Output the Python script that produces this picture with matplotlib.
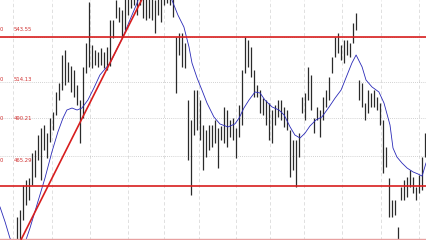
import numpy as np
import matplotlib
matplotlib.use("Agg")
import matplotlib.pyplot as plt

# daglige kurser (høy / lav), en stolpe per handelsdag
high = [403.0, 399.7, 403.0, 406.3, 408.3, 424.8, 429.4, 445.9, 449.2, 450.5,
        467.0, 469.0, 478.9, 483.5, 485.5, 480.2, 490.1, 494.1, 507.3, 513.2,
        531.7, 535.0, 527.1, 524.4, 521.8, 511.9, 502.0, 523.8, 539.6, 566.7,
        538.3, 535.0, 533.7, 536.3, 533.7, 537.0, 554.8, 554.8, 568.0, 563.4,
        561.4, 569.3, 571.3, 573.3, 574.6, 571.3, 573.3, 571.3, 570.0, 571.3,
        570.6, 568.0, 571.3, 569.3, 574.6, 574.6, 573.3, 570.0, 543.6, 546.2,
        546.2, 539.6, 502.0, 488.8, 508.6, 508.6, 502.0, 485.5, 482.2, 485.5,
        485.5, 488.8, 483.5, 484.8, 497.4, 495.4, 488.8, 490.1, 483.5, 498.7,
        521.8, 543.6, 541.6, 537.0, 521.8, 511.9, 508.6, 503.3, 502.0, 500.0,
        495.4, 498.7, 502.0, 502.0, 497.4, 495.4, 482.2, 475.6, 475.6, 480.2,
        504.0, 506.6, 523.8, 518.5, 490.1, 497.4, 495.4, 504.0, 508.6, 517.2,
        530.4, 543.6, 546.2, 538.3, 541.6, 541.6, 539.6, 552.8, 559.4, 515.2,
        513.2, 500.0, 508.6, 506.6, 508.6, 504.0, 500.0, 488.8, 471.0, 450.5,
        436.0, 436.0, 418.2, 444.6, 449.2, 451.2, 455.8, 451.2, 444.6, 452.5,
        464.4, 480.2]
low = [389.8, 386.5, 383.2, 389.8, 393.1, 406.3, 409.6, 422.8, 432.7, 436.0,
       445.9, 451.2, 462.4, 449.2, 469.0, 463.7, 474.3, 482.2, 492.1, 502.0,
       508.6, 511.9, 513.9, 507.3, 504.0, 498.7, 473.6, 490.1, 519.8, 523.8,
       523.1, 525.1, 523.8, 525.1, 523.1, 521.8, 524.4, 542.9, 556.1, 553.5,
       544.2, 548.2, 558.1, 562.7, 564.7, 558.1, 564.7, 556.1, 554.8, 556.1,
       554.8, 546.2, 558.1, 553.5, 564.7, 566.0, 564.7, 556.8, 506.6, 531.7,
       523.8, 523.1, 462.4, 439.3, 478.9, 482.2, 475.6, 455.8, 464.4, 469.0,
       471.0, 473.6, 457.1, 475.6, 473.6, 471.0, 477.6, 475.6, 463.7, 477.6,
       485.5, 519.8, 523.8, 517.2, 504.0, 504.0, 493.4, 492.1, 485.5, 475.6,
       473.6, 485.5, 490.8, 488.8, 484.2, 482.2, 451.2, 455.8, 444.6, 464.4,
       493.4, 488.8, 502.0, 495.4, 480.2, 488.8, 477.6, 488.8, 497.4, 502.0,
       519.8, 530.4, 533.0, 528.4, 526.4, 531.7, 530.4, 539.6, 548.2, 502.0,
       497.4, 488.8, 493.4, 497.4, 497.4, 495.4, 485.5, 453.8, 457.8, 424.8,
       424.8, 426.1, 403.0, 436.0, 436.0, 438.0, 444.6, 440.6, 436.0, 440.6,
       442.6, 464.4]

# glidende gjennomsnitt (blå), avlest
ma_x = [0.0, 1.7, 3.3, 5.0, 6.7, 8.3, 10.0, 12.3, 15.0, 17.3, 19.3, 21.0,
        22.3, 24.0, 25.7, 27.3, 29.3, 31.3, 33.3, 36.7, 39.3, 41.0, 43.3,
        45.7, 47.3, 50.0, 52.7, 55.0, 57.3, 59.3, 61.3, 63.0, 64.0, 65.7,
        67.3, 69.0, 71.3, 73.3, 76.0, 78.3, 79.7, 81.3, 83.0, 85.0, 86.7,
        88.3, 90.7, 93.0, 94.7, 96.7, 98.3, 100.0, 101.7, 103.3, 105.3,
        107.3, 109.7, 111.7, 113.7, 115.7, 117.3, 118.7, 120.7, 122.0, 124.0,
        126.3, 128.0, 130.0, 131.0, 132.3, 134.0, 135.7, 137.7, 139.3, 140.7,
        142.0]
ma_y = [431.4, 421.5, 410.9, 404.3, 403.0, 407.6, 417.5, 432.7, 450.5, 467.7,
        480.9, 490.1, 495.4, 496.7, 495.4, 496.7, 502.0, 509.9, 518.5, 526.4,
        537.0, 543.6, 554.8, 566.0, 575.9, 582.5, 582.5, 577.2, 568.0, 558.1,
        550.2, 537.0, 526.4, 516.5, 508.6, 500.0, 490.8, 486.2, 484.2, 486.2,
        490.1, 496.7, 502.0, 507.3, 506.6, 502.0, 497.4, 495.4, 492.1, 484.2,
        478.9, 476.9, 480.2, 484.8, 488.8, 490.8, 497.4, 503.3, 508.6, 518.5,
        526.4, 531.7, 523.8, 515.2, 510.6, 507.3, 500.0, 485.5, 470.3, 464.4,
        460.4, 457.1, 454.5, 453.2, 451.8, 460.4]

# nivåer
levels = [543.55, 514.13, 490.21, 465.29]
level_labels = ["543.55", "514.13", "490.21", "465.29"]
support = [543.55, 445.2]
bottom_level = 410.0
trend_p1 = (7.3, 410.9)
trend_p2 = (41.0, 543.6)
month_lines = [4.3, 17.3, 30.0, 42.7, 54.7, 66.3, 78.7, 90.0, 101.3, 114.0,
               127.0, 139.7]

x = np.arange(len(high)) + 0.5

fig = plt.figure(figsize=(4.26, 2.4), dpi=100)
ax = fig.add_axes([0, 0, 1, 1])
ax.set_xlim(0, 142)
ax.set_ylim(409.6, 568.0)
ax.axis("off")

for m in month_lines:
    ax.axvline(m, color="#dadada", lw=0.6, ls=(0, (4, 3)), zorder=0)
for lv in levels:
    ax.axhline(lv, color="#c4c4c4", lw=0.6, ls=(0, (1, 1.5)), zorder=0)

ax.vlines(x, low, high, color="#2a2a2a", lw=0.9, zorder=2)
ax.plot(ma_x, ma_y, color="#2a2ab8", lw=0.6, zorder=3)

for s in support:
    ax.axhline(s, color="#d81e1e", lw=1.2, zorder=4)
ax.axhline(bottom_level, color="#e8a0a0", lw=1.0, zorder=4)
ax.axline(trend_p1, trend_p2, color="#d81e1e", lw=1.2, zorder=4)

offs = [8, 2, -1, -5]
for lv, lab, dy in zip(levels, level_labels, offs):
    ax.annotate(lab, xy=(4.5, lv), xytext=(0, dy), textcoords="offset pixels",
                color="#d03030", fontsize=3.8, va="center", ha="left")
    ax.annotate("0", xy=(0.0, lv), xytext=(-0.5, dy), textcoords="offset pixels",
                color="#d03030", fontsize=3.8, va="center", ha="left")

fig.savefig("out.png", dpi=100)
